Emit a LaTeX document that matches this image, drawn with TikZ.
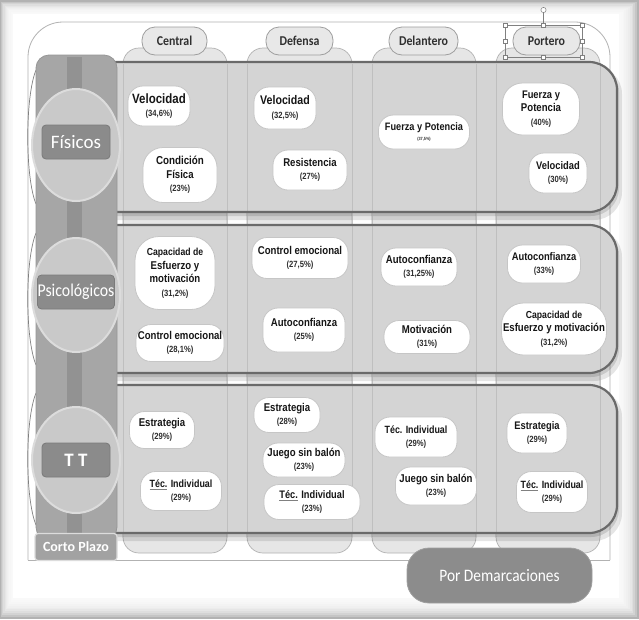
\documentclass[tikz,border=0pt]{standalone}
\usepackage{fontspec}
\usetikzlibrary{shapes.geometric}
\setmainfont{Liberation Sans}
\newfontfamily\boxf{Liberation Sans}[FakeStretch=0.85]
\newfontfamily\calf{Carlito}
\newfontfamily\calnf{Carlito}[FakeStretch=0.88]
\definecolor{rowfill}{HTML}{D4D4D4}
\definecolor{rowline}{HTML}{6A6A6A}
\definecolor{colfill}{HTML}{E6E6E6}
\definecolor{colline}{HTML}{B2B2B2}
\definecolor{barfill}{HTML}{A6A6A6}
\definecolor{barline}{HTML}{969696}
\definecolor{stripe}{HTML}{929292}
\definecolor{ellfill}{HTML}{C9C9C9}
\definecolor{ellline}{HTML}{DCDCDC}
\definecolor{labfill}{HTML}{8B8B8B}
\definecolor{labline}{HTML}{7A7A7A}
\definecolor{txt}{HTML}{161616}
\definecolor{pcol}{HTML}{2E2E2E}
\definecolor{hdrtxt}{HTML}{303030}
\definecolor{tabfill}{HTML}{E8E8E8}
\definecolor{tabline}{HTML}{9E9E9E}
\definecolor{bxline}{HTML}{C6C6C6}
\definecolor{porfill}{HTML}{8C8C8C}
\definecolor{cpfill}{HTML}{A2A2A2}
\newcommand\pc{\fontsize{9}{10}\selectfont\color{pcol}}
\newcommand\tsz[2][13.5]{\fontsize{#2}{#1}\selectfont}
\newcommand\sqline[1]{\setbox0\hbox{#1}\rlap{\raisebox{-2.2pt}{\color{gray}\rule{\wd0}{0.5pt}}}#1}
\newcommand\bxn[7][]{\node[bx,minimum width=#5,minimum height=#6,#1] (#2) at (#3,#4) {#7};}
\begin{document}
\begin{tikzpicture}[x=1pt,y=-1pt,
  bx/.style={draw=bxline,fill=white,line width=0.8,align=center,inner sep=1pt,
    text=txt,rounded corners=15,font=\boxf\bfseries\fontsize{11.3}{13.5}\selectfont},
  colshape/.style={fill=colfill,draw=colline,line width=0.7,rounded corners=16},
  tabnode/.style={fill=tabfill,draw=tabline,line width=0.8,rounded corners=13,
    minimum height=28,inner sep=0pt,text=hdrtxt,font=\calnf\bfseries\fontsize{13.5}{14}\selectfont},
  ellnode/.style={ellipse,fill=ellfill,draw=ellline,line width=2,minimum width=88,inner sep=0pt},
  labnode/.style={fill=labfill,draw=labline,line width=0.8,rounded corners=4,minimum width=68,
    minimum height=34,inner sep=0pt,text=white},
  frame/.style={draw=colline,line width=0.8},
  handle/.style={fill=white,draw=gray,line width=0.5}
]
\useasboundingbox (0,0) rectangle (639,619);
% background vignette
\fill[gray!60] (0,0) rectangle (639,619);
\foreach \i in {0,...,9} {
  \fill[white,opacity=0.25] ({1+1.2*\i},{2+1.2*\i}) rectangle ({637-1.8*\i},{617-1.9*\i});
}
\fill[white] (13,14) rectangle (619,598);
% outer thin frame
\draw[frame,rounded corners=35] (28,560) -- (28,22) -- (610,22) -- (610,560);
\draw[frame] (28,560) -- (610,560);
% columns
\foreach \xa/\xb in {123/227,247/352,372/476,496/600} {
  \draw[colshape] (\xa,48) rectangle (\xb,553);
}
% rows
\foreach \ya/\yb in {62/212,225/373,385/533} {
  \fill[black,opacity=0.10,rounded corners=28] (44,{\ya+4}) rectangle (622,{\yb+8});
  \fill[black,opacity=0.12,rounded corners=28] (42,{\ya+2}) rectangle (619,{\yb+4});
  \fill[rowfill,rounded corners=28] (40,\ya) rectangle (617,\yb);
}
\foreach \x in {123,227,247,352,372,476,496,600} {
  \draw[colline,opacity=0.6,line width=0.6] (\x,64) -- (\x,536);
}
\foreach \ya/\yb in {62/212,225/373,385/533} {
  \draw[rowline,line width=2.2,rounded corners=28] (40,\ya) rectangle (617,\yb);
  \draw[gray,line width=0.7] (36,{\ya+8}) .. controls (25,{\ya+35}) and (25,{\yb-35}) .. (36,{\yb-8});
}
% left bar
\draw[fill=barfill,draw=barline,line width=0.8,rounded corners=13] (36,55) rectangle (117,540);
\fill[stripe] (67,57) rectangle (82,535);
% ellipses and labels
\node[ellnode,minimum height=112] (e1) at (76,145) {};
\node[ellnode,minimum height=114] (e2) at (76,295) {};
\node[ellnode,minimum height=106] (e3) at (76,460) {};
\node[labnode,font=\calf\fontsize{19}{20}\selectfont] (fis) at (76,142) {Físicos};
\node[labnode,font=\calnf\fontsize{18}{20}\selectfont] (psi) at (76,292) {Psicológicos};
\node[labnode,font=\calf\bfseries\fontsize{19}{20}\selectfont] (tt) at (76,460) {T T};
\node[fill=cpfill,draw=ellline,line width=1.2,rounded corners=3,minimum width=82,minimum height=27,
  inner sep=0pt,text=white,font=\calf\bfseries\fontsize{14}{15}\selectfont] (cp) at (76,547) {Corto Plazo};
% column headers
\node[tabnode,minimum width=65] (hc) at (174.5,41) {Central};
\node[tabnode,minimum width=67] (hd) at (299.5,41) {Defensa};
\node[tabnode,minimum width=69] (hl) at (423.5,41) {Delantero};
\node[tabnode,minimum width=67] (hp) at (546.5,41) {Portero};
% selection handles on Portero
\draw[gray,line width=0.4] (505,25) rectangle (582,57);
\draw[gray,line width=0.5] (543.5,25) -- (543.5,13);
\draw[handle] (543.5,10) circle (2.6);
\foreach \hx/\hy in {505/25,543.5/25,582/25,505/41,582/41,505/57,543.5/57,582/57} {
  \draw[handle] ({\hx-2.2},{\hy-2.2}) rectangle ({\hx+2.2},{\hy+2.2});
}
% Fisicos row
\bxn{c1a}{159}{106}{62}{40}{\tsz{13.5}Velocidad\\{\pc (34,6\%)}}
\bxn[rounded corners=20]{c1b}{180}{175}{74}{55}{\tsz[14]{11.5}Condición\\Física\\{\pc (23\%)}}
\bxn{d1a}{285}{108}{62}{42}{\tsz{12.5}Velocidad\\{\pc (32,5\%)}}
\bxn{d1b}{310}{170}{74}{40}{Resistencia\\{\pc (27\%)}}
\bxn{l1a}{424}{132}{91}{34}{\tsz{10.8}Fuerza y Potencia\\[-4pt]{\fontsize{4.5}{5}\selectfont\color{pcol}(37,5\%)}}
\bxn[rounded corners=20]{p1a}{541}{109}{77}{52}{\tsz[13.5]{11}Fuerza y\\Potencia\\{\pc (40\%)}}
\bxn{p1b}{558}{173}{58}{40}{\tsz{11}Velocidad\\{\pc (30\%)}}
% Psicologicos row
\bxn[rounded corners=24]{c2a}{175}{273}{80}{73}{\tsz[14.5]{10.2}Capacidad de\\Esfuerzo y\\motivación\\{\pc (31,2\%)}}
\bxn{c2b}{180}{343}{88}{37}{Control emocional\\{\pc (28,1\%)}}
\bxn{d2a}{300}{258}{96}{41}{Control emocional\\{\pc (27,5\%)}}
\bxn{d2b}{304}{330}{82}{44}{Autoconfianza\\{\pc (25\%)}}
\bxn{l2a}{419}{267}{76}{38}{Autoconfianza\\{\pc (31,25\%)}}
\bxn{l2b}{427}{337}{86}{33}{Motivación\\{\pc (31\%)}}
\bxn{p2a}{544}{264}{73}{38}{\tsz{11}Autoconfianza\\{\pc (33\%)}}
\bxn[rounded corners=22]{p2b}{554}{329}{105}{52}{\tsz[14]{10.2}Capacidad de\\Esfuerzo y motivación\\{\pc (31,2\%)}}
% TT row
\bxn{c3a}{162}{430}{65}{37}{Estrategia\\{\pc (29\%)}}
\bxn{c3b}{181}{491}{81}{39}{\tsz{10.5}\sqline{Téc.} Individual\\{\pc (29\%)}}
\bxn{d3a}{287}{415}{66}{35}{Estrategia\\{\pc (28\%)}}
\bxn{d3b}{304}{460}{82}{34}{Juego sin balón\\{\pc (23\%)}}
\bxn{d3c}{312}{502}{96}{35}{\tsz{10.9}\sqline{Téc.} Individual\\{\pc (23\%)}}
\bxn{l3a}{416}{437}{82}{40}{\tsz{10.5}Téc. Individual\\{\pc (29\%)}}
\bxn{l3b}{436}{486}{81}{38}{Juego sin balón\\{\pc (23\%)}}
\bxn{p3a}{537}{433}{60}{40}{\tsz{11}Estrategia\\{\pc (29\%)}}
\bxn{p3b}{552}{492}{71}{41}{\tsz{10.5}\sqline{Téc.} Individual\\{\pc (29\%)}}
% bottom label
\node[fill=porfill,draw=gray!75,line width=0.8,rounded corners=22,minimum width=185,minimum height=55,
  inner sep=0pt,text=white,font=\calnf\fontsize{17.5}{18}\selectfont] (pd) at (499.5,575.5) {Por Demarcaciones};
\end{tikzpicture}
\end{document}
